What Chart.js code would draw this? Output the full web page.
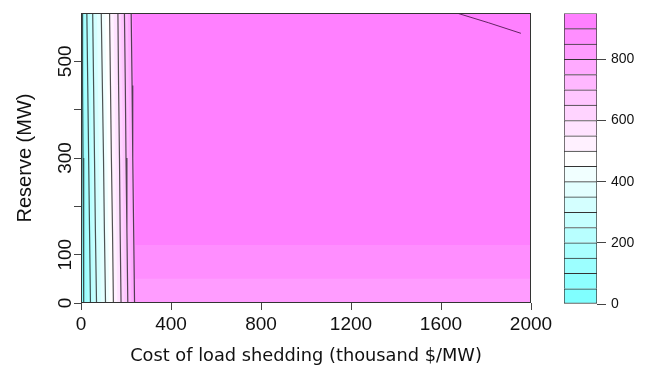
<!DOCTYPE html>
<html>
<head>
<meta charset="utf-8">
<script src="https://cdn.jsdelivr.net/npm/chart.js@4"></script>
<style>
  html, body { margin: 0; padding: 0; background: #fff; }
  #wrap { position: relative; width: 654px; height: 372px; }
  #principal { position: absolute; left: 0; top: 0; }
  #barra { position: absolute; left: 554px; top: 0; }
</style>
</head>
<body>
<div id="wrap">
  <canvas id="principal" width="654" height="372"></canvas>
  <canvas id="barra" width="100" height="372"></canvas>
</div>
<script>
// Níveis de contorno (mesma escala da barra de cores)
const niveis = [50, 100, 150, 200, 250, 300, 350, 400, 450, 500, 550, 600, 650, 700, 750, 800, 850, 900];
const niveisBarra = [0, 50, 100, 150, 200, 250, 300, 350, 400, 450, 500, 550, 600, 650, 700, 750, 800, 850, 900, 950];

// Alturas (MW) onde a posição de cada curva foi lida
const yContorno = [600, 450, 300, 150, 0];

// Posição x (mil $/MW) de cada curva de nível nessas alturas
const xContorno = [
  [2, 3, 4, 5, 6],
  [5, 7, 9, 11, 13],
  [15, 18, 21, 24, 27],
  [26, 30, 34, 38, 42],
  [39, 43, 47, 51, 55],
  [52, 56, 60, 64, 69],
  [71, 75, 80, 84, 89],
  [90, 95, 100, 104, 109],
  [108, 113, 117, 122, 126],
  [127, 131, 135, 140, 144],
  [145, 149, 153, 157, 161],
  [164, 167, 171, 174, 178],
  [178, 182, 185, 189, 193],
  [193, 197, 200, 204, 208],
  [208, 212, 215, 219, 223],
  [223, 227, 230, 234, 238],
  [227, 231, 234, 238, 242],
  [231, 235, 238, 242, 246]
];

// Curvas que viram na horizontal perto do fundo
const niveisCorte = [850, 900];
const yCorte = [50, 120];

// Curvas desenhadas com linha
const niveisLinha = [100, 200, 300, 400, 500, 600, 700, 800];

// Curva curta no canto superior direito
const linhaCantoX = [1670, 1810, 1955];
const linhaCantoY = [600, 580, 558];

// Eixos
const xTicks = [0, 400, 800, 1200, 1600, 2000];
const yTicks = [0, 100, 200, 300, 400, 500];
const yRotulos = [0, 100, 300, 500];
const barraTicks = [0, 200, 400, 600, 800];

// cm.colors(19) do R
const cores = ['#80FFFF', '#8EFFFF', '#9CFFFF', '#AAFFFF', '#B8FFFF', '#C6FFFF', '#D4FFFF', '#E3FFFF', '#F1FFFF',
  '#FFFFFF', '#FFF1FF', '#FFE3FF', '#FFD4FF', '#FFC6FF', '#FFB8FF', '#FFAAFF', '#FF9CFF', '#FF8EFF', '#FF80FF'];

const X_MAX = 2000, Y_MAX = 600;

// Monta a região z >= nível como polígono fechado até a borda direita
function regiao(i) {
  const nivel = niveis[i];
  const xs = xContorno[i];
  const c = niveisCorte.indexOf(nivel);
  const pts = [];
  if (c >= 0) {
    let ultimoX = xs[0];
    yContorno.forEach((y, k) => {
      if (y >= yCorte[c]) { pts.push({ x: xs[k], y: y }); ultimoX = xs[k]; }
    });
    pts.push({ x: ultimoX, y: yCorte[c] });
    pts.push({ x: X_MAX, y: yCorte[c] });
  } else {
    yContorno.forEach((y, k) => pts.push({ x: xs[k], y: y }));
    pts.push({ x: X_MAX, y: 0 });
  }
  pts.push({ x: X_MAX, y: Y_MAX });
  return pts;
}

const datasets = [];

// Linhas de contorno (ficam por cima)
niveisLinha.forEach(nivel => {
  const i = niveis.indexOf(nivel);
  datasets.push({
    data: yContorno.map((y, k) => ({ x: xContorno[i][k], y: y })),
    borderColor: 'rgba(25,25,25,0.75)', borderWidth: 1.2, pointRadius: 0, fill: false, tension: 0
  });
});
datasets.push({
  data: linhaCantoX.map((x, k) => ({ x: x, y: linhaCantoY[k] })),
  borderColor: 'rgba(70,20,70,0.85)', borderWidth: 1, pointRadius: 0, fill: false, tension: 0
});

// Faixas preenchidas, da mais alta para a mais baixa
for (let i = niveis.length - 1; i >= 0; i--) {
  datasets.push({
    data: regiao(i), backgroundColor: cores[i + 1], borderColor: 'transparent', borderWidth: 0,
    pointRadius: 0, fill: 'shape', tension: 0
  });
}
// Fundo: faixa mais baixa
datasets.push({
  data: [{ x: 0, y: Y_MAX }, { x: 0, y: 0 }, { x: X_MAX, y: 0 }, { x: X_MAX, y: Y_MAX }],
  backgroundColor: cores[0], borderColor: 'transparent', borderWidth: 0, pointRadius: 0, fill: 'shape'
});

// Moldura da área do gráfico
const moldura = {
  id: 'moldura',
  afterDraw(chart) {
    const { ctx, chartArea: a } = chart;
    ctx.save();
    ctx.strokeStyle = '#333';
    ctx.lineWidth = 1;
    ctx.strokeRect(a.left + 0.5, a.top + 0.5, a.right - a.left - 1, a.bottom - a.top - 1);
    ctx.restore();
  }
};

const fonteEixo = { family: 'Liberation Sans', size: 19 };

new Chart(document.getElementById('principal'), {
  type: 'line',
  data: { datasets: datasets },
  options: {
    animation: false,
    responsive: false,
    devicePixelRatio: 1,
    layout: { padding: { top: 13, right: 123, left: 0, bottom: 0 } },
    plugins: { legend: { display: false }, tooltip: { enabled: false } },
    scales: {
      x: {
        type: 'linear', min: 0, max: X_MAX,
        afterBuildTicks: s => { s.ticks = xTicks.map(v => ({ value: v })); },
        afterFit: s => { s.height = 69; },
        grid: { drawOnChartArea: false, drawTicks: true, tickLength: 7, tickColor: '#444' },
        border: { display: false },
        ticks: { font: fonteEixo, color: '#111', padding: 3, maxRotation: 0, autoSkip: false,
          callback: v => String(v) },
        title: { display: true, text: 'Cost of load shedding (thousand $/MW)', color: '#111',
          font: { family: 'DejaVu Sans', size: 17.8 }, padding: { top: 0, bottom: 5 } }
      },
      y: {
        type: 'linear', min: 0, max: Y_MAX,
        afterBuildTicks: s => { s.ticks = yTicks.map(v => ({ value: v })); },
        afterFit: s => { s.width = 81; },
        grid: { drawOnChartArea: false, drawTicks: true, tickLength: 7, tickColor: '#444' },
        border: { display: false },
        ticks: {
          font: fonteEixo, color: '#111', padding: -8, autoSkip: false,
          minRotation: 90, maxRotation: 90, crossAlign: 'center',
          callback: v => yRotulos.includes(v) ? String(v) : ''
        },
        title: { display: true, text: 'Reserve (MW)', color: '#111',
          font: { family: 'Liberation Sans', size: 20 }, padding: { top: 13, bottom: 0 } }
      }
    }
  },
  plugins: [moldura]
});

// Barra de cores
const faixasBarra = niveisBarra.slice(0, -1).map((v, i) => ({
  data: [[v, niveisBarra[i + 1]]],
  backgroundColor: cores[i],
  borderColor: '#333',
  borderWidth: { top: 1, left: 1, right: 1, bottom: i === 0 ? 1 : 0 },
  borderSkipped: false,
  grouped: false,
  barPercentage: 1,
  categoryPercentage: 1
}));

new Chart(document.getElementById('barra'), {
  type: 'bar',
  data: { labels: [''], datasets: faixasBarra },
  options: {
    animation: false,
    responsive: false,
    devicePixelRatio: 1,
    layout: { padding: { left: 10, top: 13, bottom: 68, right: 0 } },
    plugins: { legend: { display: false }, tooltip: { enabled: false } },
    scales: {
      x: { display: false },
      y: {
        position: 'right', min: 0, max: 950,
        afterBuildTicks: s => { s.ticks = barraTicks.map(v => ({ value: v })); },
        afterFit: s => { s.width = 57; },
        grid: { drawOnChartArea: false, drawTicks: true, tickLength: 9, tickColor: '#444' },
        border: { display: false },
        ticks: { font: { family: 'Liberation Sans', size: 14 }, color: '#111', padding: 5 }
      }
    }
  }
});
</script>
</body>
</html>
